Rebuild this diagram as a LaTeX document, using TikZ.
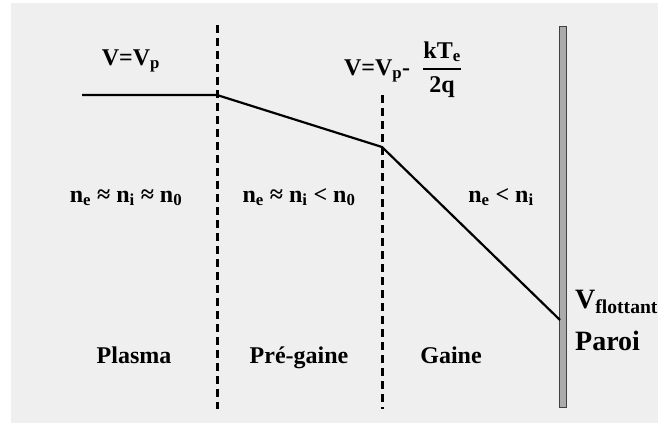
\documentclass[tikz,border=0pt]{standalone}
\usepackage{amsmath}
\usepackage{fontspec}
\setmainfont{Liberation Serif}
\usepackage{tikz}
\definecolor{fondgris}{HTML}{EFEFEF}
\definecolor{paroigris}{HTML}{ABABAB}

\begin{document}
\begin{tikzpicture}[x=1pt,y=-1pt]
\tikzset{zone/.style={font=\bfseries\fontsize{24}{28}\selectfont,inner sep=0pt,anchor=base},
         paroilbl/.style={font=\bfseries\fontsize{28}{32}\selectfont,inner sep=0pt,anchor=base west},
         sep/.style={line width=3pt,dash pattern=on 8pt off 5pt},
         profil/.style={line width=2.2pt,line join=miter}}
\useasboundingbox (0,0) rectangle (658,423);
\fill[fondgris] (11,3) rectangle (658,423);
% separations
\coordinate (sep1_haut) at (217,25);
\coordinate (sep1_bas) at (217,409);
\coordinate (sep2_haut) at (382,95);
\coordinate (sep2_bas) at (382,409);
\draw[sep] (sep1_haut)--(sep1_bas);
\draw[sep] (sep2_haut)--(sep2_bas);
% paroi
\node[draw=black!75,fill=paroigris,line width=1pt,minimum width=6.5pt,minimum height=381pt,inner sep=0pt] (paroi) at (563,216.5) {};
% potentiel
\coordinate (pot_a) at (82,95);
\coordinate (pot_b) at (217,95);
\coordinate (pot_c) at (382,147);
\coordinate (pot_d) at (560,320);
\draw[profil] (pot_a)--(pot_b)--(pot_c)--(pot_d);
% textes
\node[zone] (vp) at (131,65) {V=V\textsubscript{p}};
\node[zone] (vp_moins) at (403,75) {V=V\textsubscript{p}-\hspace{12pt}$\genfrac{}{}{1.8pt}{0}{\text{kT\textsubscript{e}}}{\text{2q}}$};
\node[zone] (dens_plasma) at (126,202) {n\textsubscript{e} ≈ n\textsubscript{i} ≈ n\textsubscript{0}};
\node[zone] (dens_pre) at (299,202) {n\textsubscript{e} ≈ n\textsubscript{i} < n\textsubscript{0}};
\node[zone] (dens_gaine) at (501,202) {n\textsubscript{e} < n\textsubscript{i}};
\node[zone] (plasma) at (134,363) {Plasma};
\node[zone] (pregaine) at (299,363) {Pré-gaine};
\node[zone] (gaine) at (451,363) {Gaine};
\node[paroilbl] (vflot) at (575,308) {V\textsubscript{flottant}};
\node[paroilbl] (paroi_lbl) at (575,350) {Paroi};
\end{tikzpicture}
\end{document}
